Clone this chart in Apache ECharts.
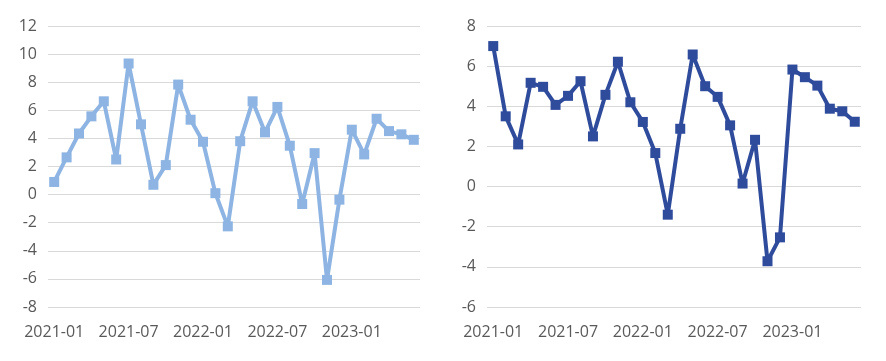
<!DOCTYPE html>
<html><head><meta charset="utf-8">
<script src="https://cdn.jsdelivr.net/npm/echarts@6/dist/echarts.min.js"></script>
<style>html,body{margin:0;padding:0;background:#fff}#c{width:886px;height:361px}</style>
</head><body><div id="c"></div>
<script>
const categories = ['2021-01','2021-02','2021-03','2021-04','2021-05','2021-06','2021-07','2021-08','2021-09','2021-10','2021-11','2021-12',
'2022-01','2022-02','2022-03','2022-04','2022-05','2022-06','2022-07','2022-08','2022-09','2022-10','2022-11','2022-12',
'2023-01','2023-02','2023-03','2023-04','2023-05','2023-06'];
const leftValues = [0.9,2.65,4.35,5.57,6.64,2.5,9.33,5.0,0.7,2.1,7.83,5.33,3.76,0.1,-2.26,3.8,6.64,4.43,6.24,3.48,-0.67,2.95,-6.07,-0.36,4.62,2.86,5.4,4.52,4.29,3.9];
const rightValues = [7.0,3.5,2.1,5.17,4.97,4.07,4.52,5.25,2.5,4.57,6.22,4.2,3.22,1.67,-1.4,2.88,6.58,5.0,4.47,3.05,0.15,2.33,-3.72,-2.53,5.83,5.45,5.03,3.88,3.75,3.23];
const leftAxis = {min:-8,max:12,interval:2};
const rightAxis = {min:-6,max:8,interval:2};

const font = 'Open Sans';
const chart = echarts.init(document.getElementById('c'));
function xAxis(i){return {type:'category',gridIndex:i,data:categories,boundaryGap:true,
  axisLine:{show:false},axisTick:{show:false},
  axisLabel:{interval:5,color:'#595959',fontSize:16,fontFamily:font,margin:17}};}
function yAxis(i,a){return {type:'value',gridIndex:i,min:a.min,max:a.max,interval:a.interval,
  axisLine:{show:false},axisTick:{show:false},
  splitLine:{lineStyle:{color:'#d9d9d9',width:1}},
  axisLabel:{color:'#595959',fontSize:16,fontFamily:font,margin:11}};}
function series(i,data,color){return {type:'line',xAxisIndex:i,yAxisIndex:i,data:data,
  symbol:'rect',symbolSize:10,showSymbol:true,showAllSymbol:true,
  lineStyle:{color:color,width:4},itemStyle:{color:color},animation:false};}
chart.setOption({
  animation:false,
  grid:[{left:48,right:466,top:26,bottom:54},{left:487,right:25,top:26,bottom:54}],
  xAxis:[xAxis(0),xAxis(1)],
  yAxis:[yAxis(0,leftAxis),yAxis(1,rightAxis)],
  series:[series(0,leftValues,'#8db4e2'),series(1,rightValues,'#2f4b9c')]
});
</script></body></html>
